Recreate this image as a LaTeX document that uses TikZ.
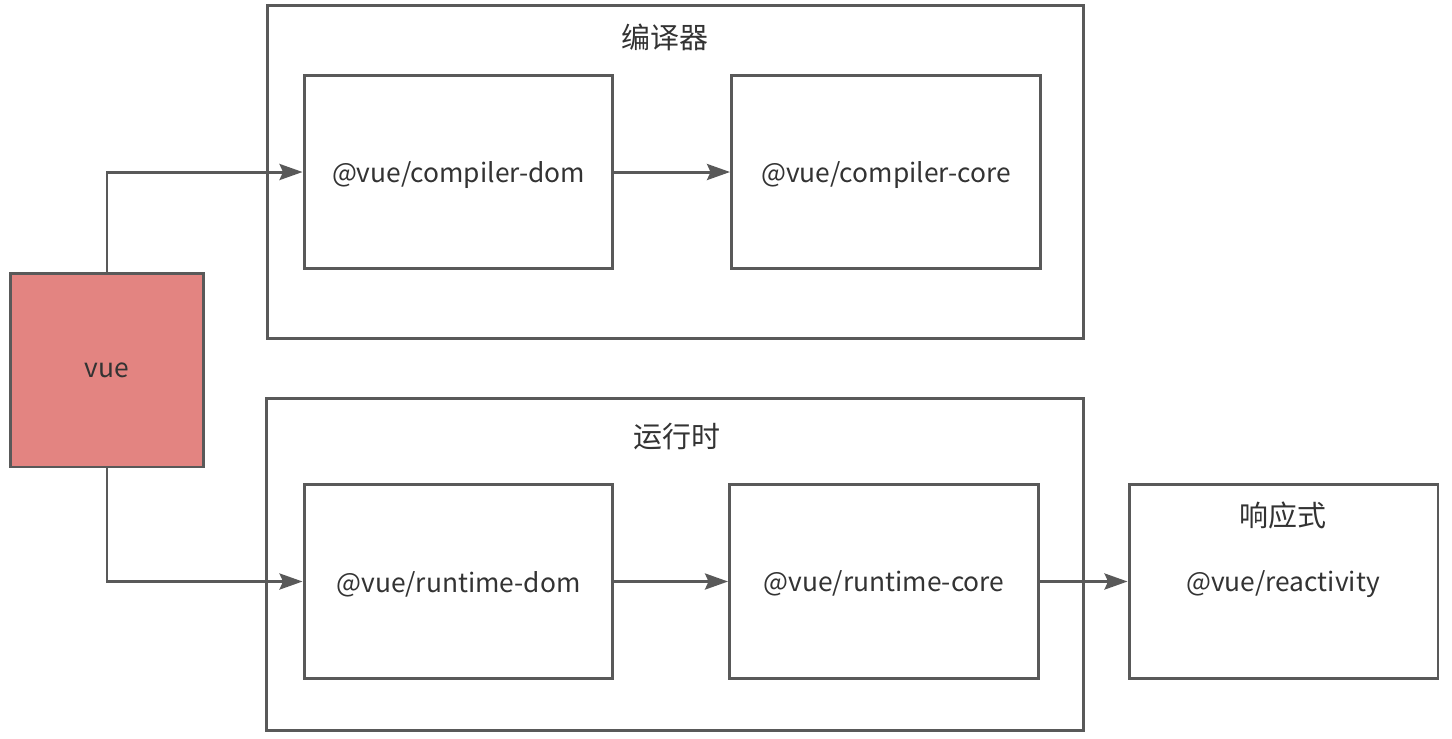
\documentclass[tikz,border=0pt]{standalone}
\usepackage{fontspec}
\setmainfont{Noto Sans CJK SC}
\usetikzlibrary{arrows.meta}
\definecolor{linegray}{HTML}{595959}
\definecolor{vuered}{HTML}{E38481}
\definecolor{textgray}{HTML}{333333}
\begin{document}
\begin{tikzpicture}[x=0.02cm, y=-0.02cm, line width=1.7pt, draw=linegray,
  font=\fontsize{15pt}{18pt}\selectfont, text=textgray,
  pkg/.style={draw=linegray, rectangle, text depth=0pt, minimum width=6.18cm, minimum height=3.88cm},
  group/.style={draw=linegray, rectangle, minimum width=16.34cm, minimum height=6.68cm},
  title/.style={font=\fontsize{16.5pt}{20pt}\selectfont},
  link/.style={draw=linegray, -{Stealth[length=0.46cm, width=0.32cm, inset=0.07cm]}}]
\useasboundingbox (0,0) rectangle (1452,738);
% compiler
\node[group] (comp) at (675.5,172) {};
\node[title] (comptitle) at (665,37) {编译器};
\node[pkg] (cdom) at (458.5,172) {@vue/compiler-dom};
\node[pkg] (ccore) at (886,172) {@vue/compiler-core};
% runtime
\node[group, minimum height=6.66cm] (run) at (675,564.5) {};
\node[title] (runtitle) at (677,437) {运行时};
\node[pkg] (rdom) at (458.5,581.5) {@vue/runtime-dom};
\node[pkg] (rcore) at (884,581.5) {@vue/runtime-core};
% reactivity
\node[pkg] (react) at (1283.5,581.5) {};
\node[title] (reacttitle) at (1283,515) {响应式};
\node[text depth=0pt] (reactname) at (1283,581.5) {@vue/reactivity};
% vue
\node[draw=linegray, fill=vuered, rectangle, text depth=0pt, minimum size=3.88cm] (vue) at (107,370) {vue};
\path[link] (vue.north) |- (cdom.west);
\path[link] (vue.south) |- (rdom.west);
\path[link] (cdom) edge (ccore);
\path[link] (rdom) edge (rcore);
\path[link] (rcore) edge (react);
\end{tikzpicture}
\end{document}
